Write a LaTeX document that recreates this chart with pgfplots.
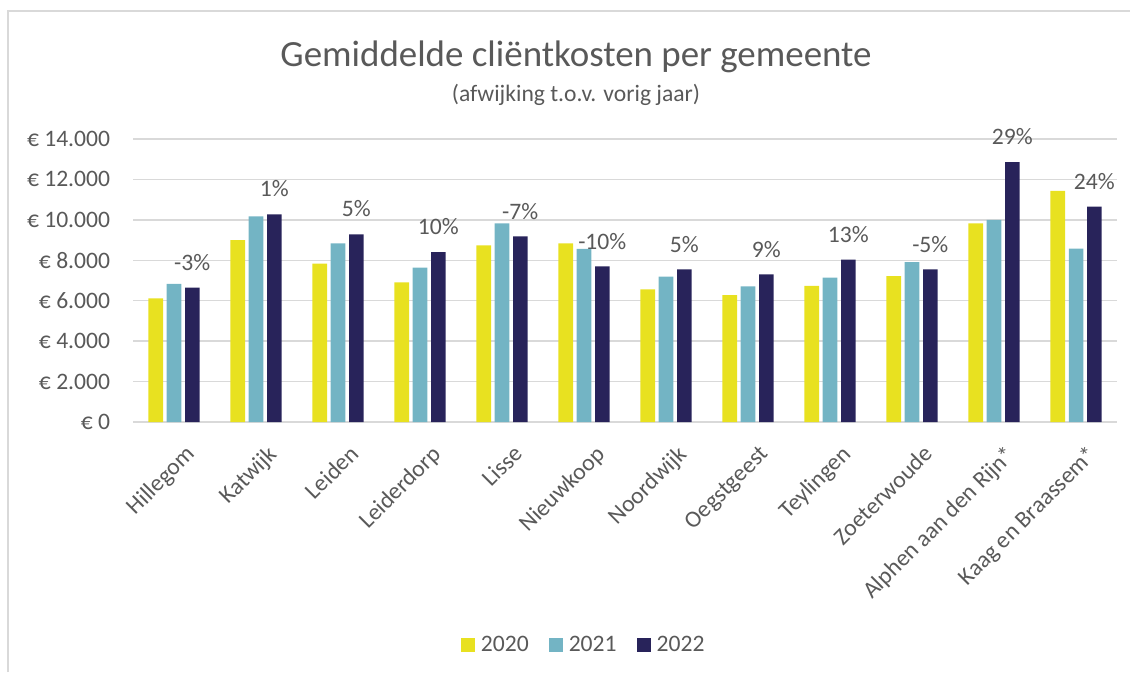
\documentclass[border=0pt]{standalone}
\usepackage{pgfplots}
\pgfplotsset{compat=1.18}
\usepackage{pgfplotstable}
\usepackage{fontspec}
\setmainfont{Carlito}

\definecolor{c2020}{HTML}{E8E120}
\definecolor{c2021}{HTML}{73B4C4}
\definecolor{c2022}{HTML}{28235A}
\definecolor{txt}{HTML}{595959}
\definecolor{gridc}{HTML}{D9D9D9}

% average client cost per municipality (euro)
\pgfplotstableread{
x y
0  6120
1  9000
2  7830
3  6910
4  8740
5  8840
6  6560
7  6280
8  6730
9  7220
10 9830
11 11430
}\costsA

\pgfplotstableread{
x y
0  6830
1  10175
2  8840
3  7635
4  9830
5  8560
6  7190
7  6710
8  7140
9  7915
10 9995
11 8575
}\costsB

% 2022 with change versus previous year (%)
\pgfplotstableread{
x y lbl
0  6650  -3
1  10275 1
2  9285  5
3  8410  10
4  9185  -7
5  7700  -10
6  7550  5
7  7305  9
8  8030  13
9  7550  -5
10 12860 29
11 10655 24
}\costsC

\newcommand{\lblfont}{\fontsize{17.7}{21}\selectfont}

\begin{document}
\begin{tikzpicture}
\path[use as bounding box] (0,0) rectangle (847.5pt,504pt);
\draw[gridc, line width=1.2pt] (6pt,0pt) -- (6pt,495.75pt) -- (847.5pt,495.75pt);

\node[text=txt, font=\fontsize{27.7}{33}\selectfont] at (432pt,461.25pt) {Gemiddelde cliëntkosten per gemeente};
\node[text=txt, font=\lblfont] at (432pt,432.75pt) {(afwijking t.o.v. vorig jaar)};

\begin{axis}[
  at={(99.75pt,187.5pt)}, anchor=south west,
  scale only axis, width=738pt, height=212.25pt,
  xmin=-0.5, xmax=11.5, ymin=0, ymax=14000,
  scaled y ticks=false,
  ybar=2.8pt, bar width=10.9pt,
  axis line style={draw=none},
  ymajorgrids, major grid style={gridc, line width=1.1pt},
  tick style={draw=none}, major tick length=0pt,
  xtick={0,...,11},
  xticklabels={Hillegom,Katwijk,Leiden,Leiderdorp,Lisse,Nieuwkoop,Noordwijk,Oegstgeest,Teylingen,Zoeterwoude,Alphen aan den Rijn*,Kaag en Braassem*},
  ytick={0,2000,4000,6000,8000,10000,12000,14000},
  yticklabels={€ 0,€ 2.000,€ 4.000,€ 6.000,€ 8.000,€ 10.000,€ 12.000,€ 14.000},
  tick label style={font=\lblfont, text=txt},
  yticklabel style={anchor=east, inner sep=0pt, xshift=-17pt},
  xticklabel style={rotate=45, anchor=north east, inner sep=0pt, xshift=-6pt, yshift=-17pt},
  clip=false,
  legend style={at={(0.457,-0.788)}, anchor=center, draw=none, fill=none,
    font=\lblfont, text=txt, legend columns=3,
    nodes={inner sep=0pt},
    /tikz/every odd column/.append style={column sep=4.5pt},
    /tikz/every even column/.append style={column sep=15pt}},
  legend image code/.code={\fill[#1] (0pt,-5.25pt) rectangle (10.5pt,5.25pt);},
]
\addplot[fill=c2020, draw=none] table[x=x,y=y] {\costsA};
\addplot[fill=c2021, draw=none] table[x=x,y=y] {\costsB};
\addplot[fill=c2022, draw=none,
  point meta=explicit symbolic,
  nodes near coords={\pgfplotspointmeta\%},
  every node near coord/.append style={font=\lblfont, text=txt, anchor=base, yshift=13pt}]
  table[x=x,y=y,meta=lbl] {\costsC};
\legend{2020,2021,2022}
\end{axis}
\end{tikzpicture}
\end{document}
